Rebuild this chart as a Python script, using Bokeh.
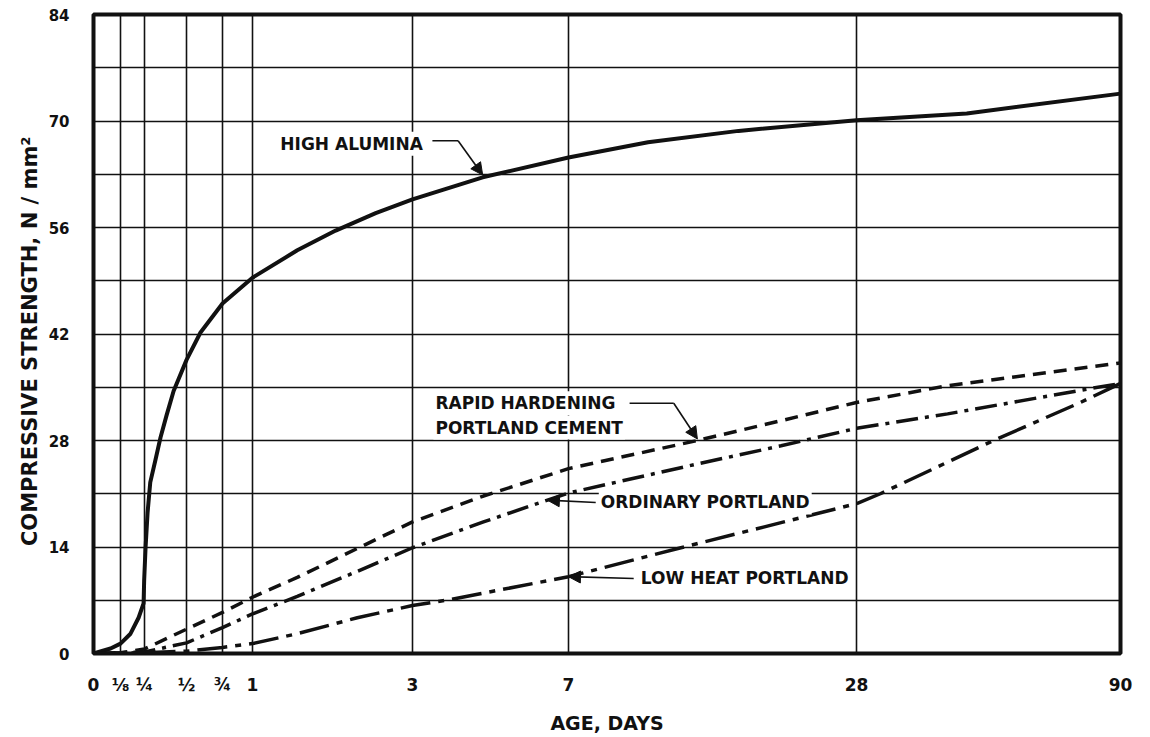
import numpy as np
from bokeh.plotting import figure
from bokeh.models import FixedTicker, Label, Arrow, NormalHead
from bokeh.embed import file_html
from bokeh.resources import INLINE

# ---- axis definitions -------------------------------------------------------
AGE_TICKS = [0, 0.125, 0.25, 0.5, 0.75, 1, 3, 7, 28, 90]
AGE_TICK_LABELS = ["0", "⅛", "¼", "½", "¾", "1", "3", "7", "28", "90"]
STRENGTH_TICKS = [0, 14, 28, 42, 56, 70, 84]
STRENGTH_GRID_STEP = 7

# uneven spacing of the age scale (percent of axis length at each tick)
AGE_SCALE = [0, 2.63, 4.97, 9.06, 12.56, 15.48, 31.06, 46.25, 74.29, 100]

# ---- data: compressive strength (N/mm^2) against age (days) -----------------
high_alumina_days = [0, 0.079, 0.125, 0.177, 0.219, 0.245, 0.248, 0.256, 0.268,
                     0.284, 0.3155, 0.345, 0.381, 0.423, 0.5, 0.597, 0.75, 1,
                     1.56, 2.04, 2.54, 3, 4.8, 7, 12.8, 19.4, 28, 53.9, 90]
high_alumina_strength = [0, 0.66, 1.3, 2.6, 4.7, 6.6, 9.6, 13.9, 18.5,
                         22.5, 25.5, 28.4, 31.3, 34.5, 38.6, 42.2, 46.0, 49.4,
                         53.0, 55.6, 57.9, 59.7, 62.6, 65.2, 67.2, 68.7, 70.1,
                         71.0, 73.6]

rapid_hardening_days = [0, 0.125, 0.25, 0.5, 0.75, 1, 1.56, 2.31, 3, 4.82, 7,
                        16.4, 22.5, 28, 49.4, 90]
rapid_hardening_strength = [0, 0.1, 0.6, 3.2, 5.4, 7.4, 10.0, 13.8, 17.3, 20.7,
                            24.3, 28.0, 30.6, 33.0, 35.2, 38.2]

ordinary_days = [0, 0.25, 0.5, 0.75, 1, 1.56, 2.31, 3, 4.82, 7, 16.6, 22.5, 28,
                 49.4, 80.6, 90]
ordinary_strength = [0, 0.2, 1.4, 3.4, 5.2, 7.5, 10.8, 13.9, 17.3, 21.1, 25.0,
                     27.3, 29.6, 31.5, 34.6, 35.5]

low_heat_days = [0, 0.25, 0.5, 0.75, 1, 1.56, 2.31, 3, 3.97, 7, 15.2, 22.5, 28,
                 33.6, 60.2, 80.6, 90]
low_heat_strength = [0, 0.1, 0.3, 0.8, 1.3, 2.6, 4.7, 6.3, 7.1, 10.1, 13.9,
                     17.2, 19.7, 21.0, 28.0, 33.0, 35.5]


def age_to_axis(days):
    """Map age in days onto the piecewise age scale."""
    return np.interp(days, AGE_TICKS, AGE_SCALE)


FONT = "DejaVu Sans"
INK = "#111111"

p = figure(width=1150, height=737, output_backend="svg", toolbar_location=None,
           x_range=(0, 100), y_range=(0, 84),
           min_border_left=93, min_border_right=30,
           min_border_top=14, min_border_bottom=84,
           background_fill_color="white", border_fill_color="white")

p.outline_line_color = INK
p.outline_line_width = 4

# grid
p.xgrid.ticker = FixedTicker(ticks=list(age_to_axis(AGE_TICKS[1:-1])))
p.ygrid.ticker = FixedTicker(ticks=list(range(STRENGTH_GRID_STEP, 84, STRENGTH_GRID_STEP)))
for g in (p.xgrid, p.ygrid):
    g.grid_line_color = INK
    g.grid_line_width = 1.6
    g.grid_line_alpha = 1.0

# x axis
tick_pos = [float(v) for v in age_to_axis(AGE_TICKS)]
p.xaxis.ticker = FixedTicker(ticks=tick_pos)
p.xaxis.major_label_overrides = {v: lab for v, lab in zip(tick_pos, AGE_TICK_LABELS)}
p.xaxis.axis_label = "AGE, DAYS"

# y axis
p.yaxis.ticker = FixedTicker(ticks=STRENGTH_TICKS)
p.yaxis.axis_label = "COMPRESSIVE  STRENGTH,  N / mm²"

for ax in (p.xaxis[0], p.yaxis[0]):
    ax.axis_line_color = None
    ax.major_tick_line_color = None
    ax.minor_tick_line_color = None
    ax.major_label_text_font = FONT
    ax.major_label_text_font_style = "bold"
    ax.major_label_text_color = INK
    ax.axis_label_text_font = FONT
    ax.axis_label_text_font_style = "bold"
    ax.axis_label_text_color = INK

p.xaxis.major_label_text_font_size = "17px"
p.yaxis.major_label_text_font_size = "15px"
p.xaxis.axis_label_text_font_size = "19px"
p.yaxis.axis_label_text_font_size = "21px"
p.xaxis.major_label_standoff = 15
p.xaxis.axis_label_standoff = 14
p.yaxis.major_label_standoff = 18
p.yaxis.axis_label_standoff = 4

# ---- curves ------------------------------------------------------------------
p.line(age_to_axis(high_alumina_days), high_alumina_strength,
       line_color=INK, line_width=4, line_join="round", line_cap="round")
p.line(age_to_axis(rapid_hardening_days), rapid_hardening_strength,
       line_color=INK, line_width=3.5, line_dash="13 8")
p.line(age_to_axis(ordinary_days), ordinary_strength,
       line_color=INK, line_width=3.5, line_dash="22 7 4 7")
p.line(age_to_axis(low_heat_days), low_heat_strength,
       line_color=INK, line_width=3.5, line_dash="30 8 6 8")


# ---- labels with leader arrows ----------------------------------------------
def add_label(x, y, text):
    p.add_layout(Label(x=x, y=y, text=text, text_font=FONT, text_font_style="bold",
                       text_font_size="17px", text_color=INK, text_align="left",
                       text_baseline="middle", background_fill_color="white",
                       padding=2))


def add_arrow(x0, y0, x1, y1):
    p.add_layout(Arrow(x_start=x0, y_start=y0, x_end=x1, y_end=y1,
                       line_color=INK, line_width=1.6,
                       end=NormalHead(size=12, fill_color=INK, line_color=INK)))


def on_curve(days, strength, d):
    return float(age_to_axis(d)), float(np.interp(d, days, strength))


# High alumina
add_label(18.0, 67.0, "HIGH ALUMINA")
tx, ty = on_curve(high_alumina_days, high_alumina_strength, 4.8)
p.line([33.0, 35.5], [67.4, 67.4], line_color=INK, line_width=1.6)
add_arrow(35.5, 67.4, tx, ty + 0.3)

# Rapid hardening portland cement
add_label(33.1, 32.9, "RAPID HARDENING")
add_label(33.1, 29.7, "PORTLAND CEMENT")
tx, ty = on_curve(rapid_hardening_days, rapid_hardening_strength, 16.4)
p.line([52.2, 56.5], [32.9, 32.9], line_color=INK, line_width=1.6)
add_arrow(56.5, 32.9, tx, ty + 0.2)

# Ordinary portland
add_label(49.2, 19.85, "ORDINARY PORTLAND")
tx, ty = on_curve(ordinary_days, ordinary_strength, 6.46)
add_arrow(48.9, 19.85, tx, ty)

# Low heat portland
add_label(53.1, 9.86, "LOW HEAT PORTLAND")
tx, ty = on_curve(low_heat_days, low_heat_strength, 7)
add_arrow(52.6, 9.86, tx, ty)

open("out.html", "w").write(file_html(p, INLINE))
